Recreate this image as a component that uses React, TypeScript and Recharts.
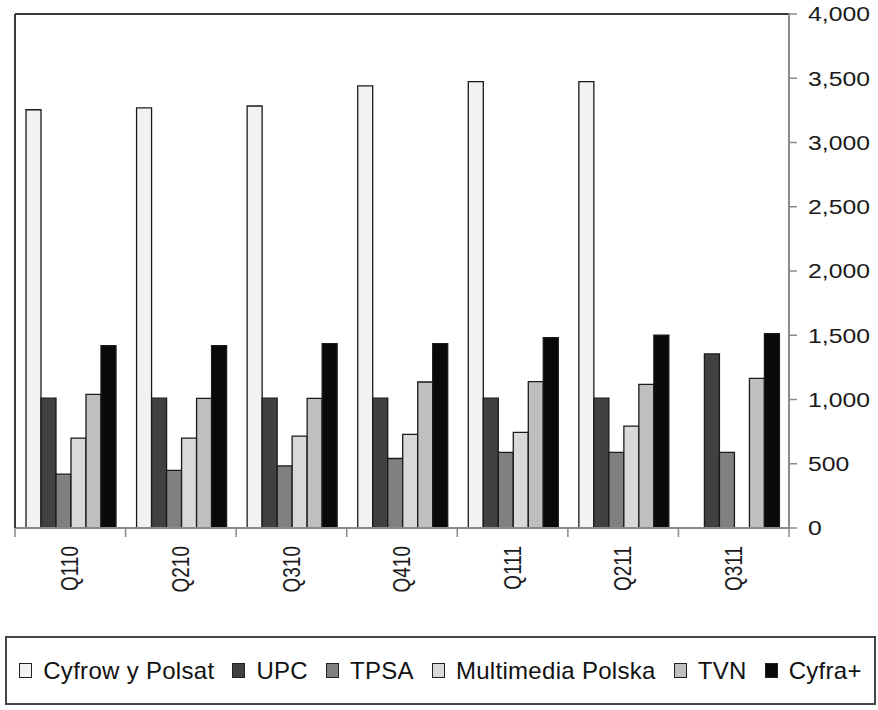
import React from 'react';
import {
  BarChart,
  Bar,
  XAxis,
  YAxis,
  Legend,
  ReferenceLine,
} from 'recharts';

const quarters = ['Q110', 'Q210', 'Q310', 'Q410', 'Q111', 'Q211', 'Q311'];

const cyfrowyPolsat = [3255, 3270, 3284, 3440, 3474, 3474, null];
const upc = [1010, 1010, 1010, 1010, 1010, 1010, 1355];
const tpsa = [419, 448, 484, 541, 588, 588, 588];
const multimedia = [700, 700, 715, 729, 744, 793, null];
const tvn = [1040, 1009, 1009, 1136, 1139, 1118, 1165];
const cyfraPlus = [1420, 1420, 1435, 1435, 1482, 1500, 1513];

const yTicks = [0, 500, 1000, 1500, 2000, 2500, 3000, 3500, 4000];

const series = [
  { key: 'cp', name: 'Cyfrow y Polsat', color: '#f2f2f2' },
  { key: 'upc', name: 'UPC', color: '#404241' },
  { key: 'tpsa', name: 'TPSA', color: '#808080' },
  { key: 'mm', name: 'Multimedia Polska', color: '#d9d9d9' },
  { key: 'tvn', name: 'TVN', color: '#bfbfbf' },
  { key: 'cplus', name: 'Cyfra+', color: '#07090a' },
];

const data = quarters.map((q, i) => ({
  q,
  cp: cyfrowyPolsat[i],
  upc: upc[i],
  tpsa: tpsa[i],
  mm: multimedia[i],
  tvn: tvn[i],
  cplus: cyfraPlus[i],
}));

const FONT = '"Liberation Sans", Arial, sans-serif';
const W = 878;
const H = 710;
const LEFT = 15;
const TOP = 14;
const RIGHT_AXIS = 89;
const band = (W - LEFT - RIGHT_AXIS) / quarters.length;

// category ticks sit on the band edges, labels in the middle
function QuarterTick(props: any) {
  const { x, y, payload, index } = props;
  const left = x - band / 2;
  const right = x + band / 2;
  const ty = y + 18;
  return (
    <g>
      {index === 0 && (
        <line x1={left} y1={y} x2={left} y2={TOP} stroke="#3a3a3a" strokeWidth={2} />
      )}
      <line x1={left} y1={y} x2={left} y2={y + 9} stroke="#8a8a8a" strokeWidth={1.5} />
      {index === quarters.length - 1 && (
        <line x1={right} y1={y} x2={right} y2={y + 9} stroke="#8a8a8a" strokeWidth={1.5} />
      )}
      <g transform={`translate(${x},${ty}) rotate(-90) scale(1,1.22)`}>
        <text
          x={0}
          y={0}
          textAnchor="end"
          dy="0.35em"
          fontSize={19}
          fontFamily={FONT}
          fill="#1a1a1a"
        >
          {payload.value}
        </text>
      </g>
    </g>
  );
}

function ValueTick(props: any) {
  const { x, y, payload } = props;
  return (
    <g transform={`translate(${x},${y}) scale(1.18,1)`}>
      <text x={0} y={0} dy="0.35em" textAnchor="start" fontSize={21} fontFamily={FONT} fill="#1a1a1a">
        {Number(payload.value).toLocaleString('en-US')}
      </text>
    </g>
  );
}

function LegendBox() {
  return (
    <div
      style={{
        boxSizing: 'border-box',
        width: 871,
        height: 69,
        border: '2px solid #444',
        display: 'flex',
        alignItems: 'center',
        justifyContent: 'center',
        fontFamily: FONT,
        fontSize: 24,
        letterSpacing: 0.3,
        color: '#111',
        background: '#fff',
      }}
    >
      {series.map((s, i) => (
        <div
          key={s.key}
          style={{
            display: 'flex',
            alignItems: 'center',
            marginRight: i === series.length - 1 ? 0 : 18,
          }}
        >
          <span
            style={{
              display: 'inline-block',
              boxSizing: 'border-box',
              width: 13,
              height: 15,
              border: '1.5px solid #222',
              background: s.color,
              marginRight: 11,
            }}
          />
          <span>{s.name}</span>
        </div>
      ))}
    </div>
  );
}

export default function App() {
  return (
    <div style={{ position: 'absolute', left: 0, top: 0, width: W, height: H, background: '#fff' }}>
      <BarChart
        width={W}
        height={H}
        data={data}
        margin={{ top: TOP, right: 0, left: LEFT, bottom: 112 }}
        barCategoryGap={11}
        barGap={0}
      >
        <XAxis
          dataKey="q"
          interval={0}
          height={70}
          tickLine={false}
          tickSize={0}
          tickMargin={0}
          axisLine={{ stroke: '#8a8a8a', strokeWidth: 2 }}
          tick={<QuarterTick />}
        />
        <XAxis
          xAxisId="top"
          dataKey="q"
          orientation="top"
          height={0}
          tick={false}
          tickLine={false}
          axisLine={{ stroke: '#3a3a3a', strokeWidth: 2 }}
        />
        <YAxis
          orientation="right"
          width={RIGHT_AXIS}
          domain={[0, 4000]}
          ticks={yTicks}
          interval={0}
          tickSize={8}
          tickMargin={11}
          tickLine={{ stroke: '#8a8a8a', strokeWidth: 1.5 }}
          axisLine={{ stroke: '#8a8a8a', strokeWidth: 2 }}
          tick={<ValueTick />}
        />
        <ReferenceLine y={4000} stroke="#3a3a3a" strokeWidth={2} />
        {series.map((s) => (
          <Bar
            key={s.key}
            dataKey={s.key}
            name={s.name}
            fill={s.color}
            stroke="#1a1a1a"
            strokeWidth={1.3}
            isAnimationActive={false}
          />
        ))}
        <Legend
          layout="horizontal"
          verticalAlign="middle"
          align="center"
          wrapperStyle={{ left: 5, top: 636, width: 871, height: 69 }}
          content={() => <LegendBox />}
        />
      </BarChart>
    </div>
  );
}
